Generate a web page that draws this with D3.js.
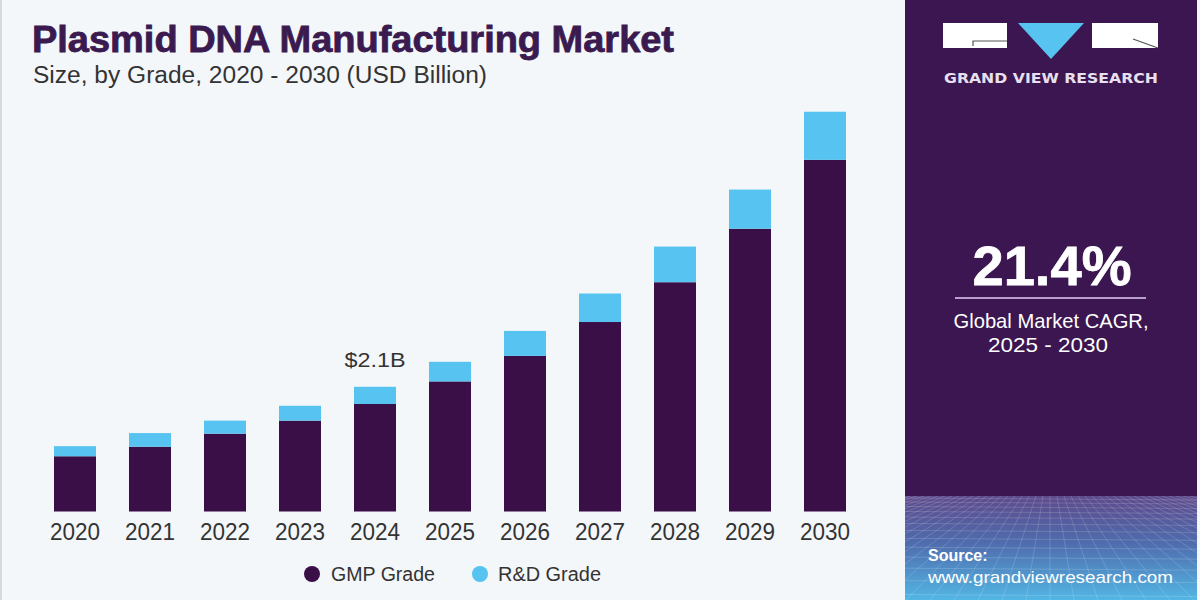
<!DOCTYPE html>
<html>
<head>
<meta charset="utf-8">
<script src="https://cdn.jsdelivr.net/npm/d3@7/dist/d3.min.js"></script>
<style>
  html, body { margin: 0; padding: 0; background: #f3f7fa; }
  svg { display: block; }
</style>
</head>
<body>
<svg id="chart" width="1200" height="600"></svg>
<script>
// ---- data ----
const years = ["2020","2021","2022","2023","2024","2025","2026","2027","2028","2029","2030"];
const gmpGrade = [0.93, 1.09, 1.31, 1.53, 1.81, 2.19, 2.62, 3.19, 3.86, 4.76, 5.92];
const rdGrade  = [0.17, 0.23, 0.22, 0.25, 0.29, 0.33, 0.42, 0.48, 0.60, 0.66, 0.81];
const seriesNames = ["GMP Grade", "R&D Grade"];
const annotation = { year: "2024", label: "$2.1B" };
const cagr = "21.4%";

const colors = { gmp: "#3a0f47", rd: "#56c3f0", panel: "#3b1650", title: "#3a1a4f", text: "#333333" };

const svg = d3.select("#chart");

// background
svg.append("rect").attr("width", 1200).attr("height", 600).attr("fill", "#f3f7fa");
svg.append("rect").attr("x", 0).attr("y", 0).attr("width", 2).attr("height", 600).attr("fill", "#d6d9dd");

// ---- scales ----
const x = d3.scaleBand().domain(years).range([37.5, 862.5]).paddingInner(0.44).paddingOuter(0.22);
const y = d3.scaleLinear().domain([0, 7]).range([511.5, 511.5 - 7 * 59.4]);

const table = years.map((yr, i) => ({ year: yr, gmp: gmpGrade[i], rd: rdGrade[i] }));
const stacked = d3.stack().keys(["gmp", "rd"])(table);

const g = svg.append("g");
g.selectAll("g.layer").data(stacked).join("g")
  .attr("class", "layer")
  .attr("fill", d => d.key === "gmp" ? colors.gmp : colors.rd)
  .selectAll("rect").data(d => d).join("rect")
  .attr("x", d => x(d.data.year))
  .attr("width", x.bandwidth())
  .attr("y", d => y(d[1]))
  .attr("height", d => y(d[0]) - y(d[1]));

// x axis labels
const xAxis = d3.axisBottom(x).tickSize(0).tickPadding(0);
const axisG = svg.append("g").attr("transform", "translate(0,522)").call(xAxis);
axisG.select(".domain").remove();
axisG.selectAll("text")
  .attr("dy", "0")
  .attr("y", 18)
  .attr("fill", colors.text)
  .attr("textLength", 50).attr("lengthAdjust", "spacingAndGlyphs")
  .style("font-family", "'Liberation Sans', Arial, sans-serif")
  .style("font-size", "23px");

// annotation
const annIdx = years.indexOf(annotation.year);
svg.append("text")
  .attr("x", x(annotation.year) + x.bandwidth() / 2)
  .attr("y", y(gmpGrade[annIdx] + rdGrade[annIdx]) - 20)
  .attr("text-anchor", "middle")
  .attr("fill", colors.text)
  .attr("textLength", 61).attr("lengthAdjust", "spacingAndGlyphs")
  .style("font-family", "'Liberation Sans', Arial, sans-serif")
  .style("font-size", "21px")
  .text(annotation.label);

// title
svg.append("text")
  .attr("x", 32).attr("y", 52)
  .attr("fill", colors.title)
  .attr("stroke", colors.title).attr("stroke-width", 0.8)
  .attr("textLength", 642).attr("lengthAdjust", "spacingAndGlyphs")
  .style("font-family", "'Liberation Sans', Arial, sans-serif")
  .style("font-weight", "bold")
  .style("font-size", "36px")
  .text("Plasmid DNA Manufacturing Market");
svg.append("text")
  .attr("x", 33).attr("y", 83)
  .attr("fill", colors.text)
  .attr("textLength", 454).attr("lengthAdjust", "spacingAndGlyphs")
  .style("font-family", "'Liberation Sans', Arial, sans-serif")
  .style("font-size", "23px")
  .text("Size, by Grade, 2020 - 2030 (USD Billion)");

// legend
const legend = svg.append("g").style("font-family", "'Liberation Sans', Arial, sans-serif");
const legendPos = [{ cx: 312, tx: 331, w: 104 }, { cx: 480, tx: 498, w: 103 }];
seriesNames.forEach((name, i) => {
  legend.append("circle").attr("cx", legendPos[i].cx).attr("cy", 574).attr("r", 8)
    .attr("fill", i === 0 ? colors.gmp : colors.rd);
  legend.append("text").attr("x", legendPos[i].tx).attr("y", 581)
    .attr("textLength", legendPos[i].w).attr("lengthAdjust", "spacingAndGlyphs")
    .attr("fill", colors.text).style("font-size", "20px").text(name);
});

// ---- right panel ----
const panel = svg.append("g");
panel.append("rect").attr("x", 905).attr("y", 0).attr("width", 292).attr("height", 600).attr("fill", colors.panel);
const defs = svg.append("defs");
const grad = defs.append("linearGradient").attr("id", "pg").attr("x1", 0).attr("y1", 0).attr("x2", 0).attr("y2", 1);
grad.append("stop").attr("offset", "0%").attr("stop-color", "#5e4a8c");
grad.append("stop").attr("offset", "45%").attr("stop-color", "#4f6cad");
grad.append("stop").attr("offset", "100%").attr("stop-color", "#52b6e4");
defs.append("clipPath").attr("id", "pc").append("rect").attr("x", 905).attr("y", 496).attr("width", 292).attr("height", 104);
panel.append("rect").attr("x", 905).attr("y", 496).attr("width", 292).attr("height", 104).attr("fill", "url(#pg)");
const grid = panel.append("g").attr("clip-path", "url(#pc)").attr("stroke", "#ffffff").attr("stroke-opacity", 0.2).attr("stroke-width", 0.8).attr("fill", "none");
let yy = 498, step = 4;
while (yy < 600) { grid.append("line").attr("x1", 905).attr("x2", 1197).attr("y1", yy).attr("y2", yy + 2); yy += step; step *= 1.12; }
d3.range(-30, 31).forEach(k => {
  grid.append("line").attr("x1", 1050 + k * 7).attr("y1", 496).attr("x2", 1050 + k * 24).attr("y2", 600);
});
panel.append("rect").attr("x", 1197).attr("y", 0).attr("width", 3).attr("height", 600).attr("fill", "#f3f7fa");

// logo
const logo = panel.append("g");
logo.append("rect").attr("x", 943).attr("y", 23).attr("width", 64).attr("height", 25).attr("fill", "#ffffff");
logo.append("path").attr("d", "M973,46 L973,41 L1007,41").attr("stroke", "#555").attr("stroke-width", 1.2).attr("fill", "none");
logo.append("path").attr("d", "M1018,23 L1084,23 L1051,59 Z").attr("fill", "#56c3f0");
logo.append("rect").attr("x", 1092).attr("y", 23).attr("width", 66).attr("height", 25).attr("fill", "#ffffff");
logo.append("path").attr("d", "M1133,39 L1158,48").attr("stroke", "#555").attr("stroke-width", 1.2);
logo.append("text").attr("x", 944).attr("y", 83)
  .attr("textLength", 214).attr("lengthAdjust", "spacingAndGlyphs")
  .attr("fill", "#e8e0f0")
  .style("font-family", "'DejaVu Sans', 'Liberation Sans', sans-serif")
  .style("font-weight", "bold").style("font-size", "14px")
  .text("GRAND VIEW RESEARCH");

// CAGR
panel.append("text").attr("x", 1052).attr("y", 285).attr("text-anchor", "middle")
  .attr("fill", "#ffffff").attr("stroke", "#ffffff").attr("stroke-width", 0.8)
  .attr("textLength", 159).attr("lengthAdjust", "spacingAndGlyphs")
  .style("font-family", "'Liberation Sans', Arial, sans-serif").style("font-weight", "bold").style("font-size", "56px")
  .text(cagr);
panel.append("line").attr("x1", 955).attr("x2", 1146).attr("y1", 298).attr("y2", 298)
  .attr("stroke", "#b79fce").attr("stroke-width", 2);
panel.append("text").attr("x", 1051).attr("y", 328).attr("text-anchor", "middle")
  .attr("fill", "#ffffff").attr("textLength", 195).attr("lengthAdjust", "spacingAndGlyphs")
  .style("font-family", "'Liberation Sans', Arial, sans-serif").style("font-size", "21px")
  .text("Global Market CAGR,");
panel.append("text").attr("x", 1048).attr("y", 352).attr("text-anchor", "middle")
  .attr("fill", "#ffffff").attr("textLength", 120).attr("lengthAdjust", "spacingAndGlyphs")
  .style("font-family", "'Liberation Sans', Arial, sans-serif").style("font-size", "21px")
  .text("2025 - 2030");

// source
panel.append("text").attr("x", 928).attr("y", 561).attr("fill", "#ffffff")
  .style("font-family", "'Liberation Sans', Arial, sans-serif").style("font-weight", "bold").style("font-size", "16px")
  .text("Source:");
panel.append("text").attr("x", 928).attr("y", 583).attr("fill", "#ffffff")
  .attr("textLength", 245).attr("lengthAdjust", "spacingAndGlyphs")
  .style("font-family", "'Liberation Sans', Arial, sans-serif").style("font-size", "17px")
  .text("www.grandviewresearch.com");
</script>
</body>
</html>
